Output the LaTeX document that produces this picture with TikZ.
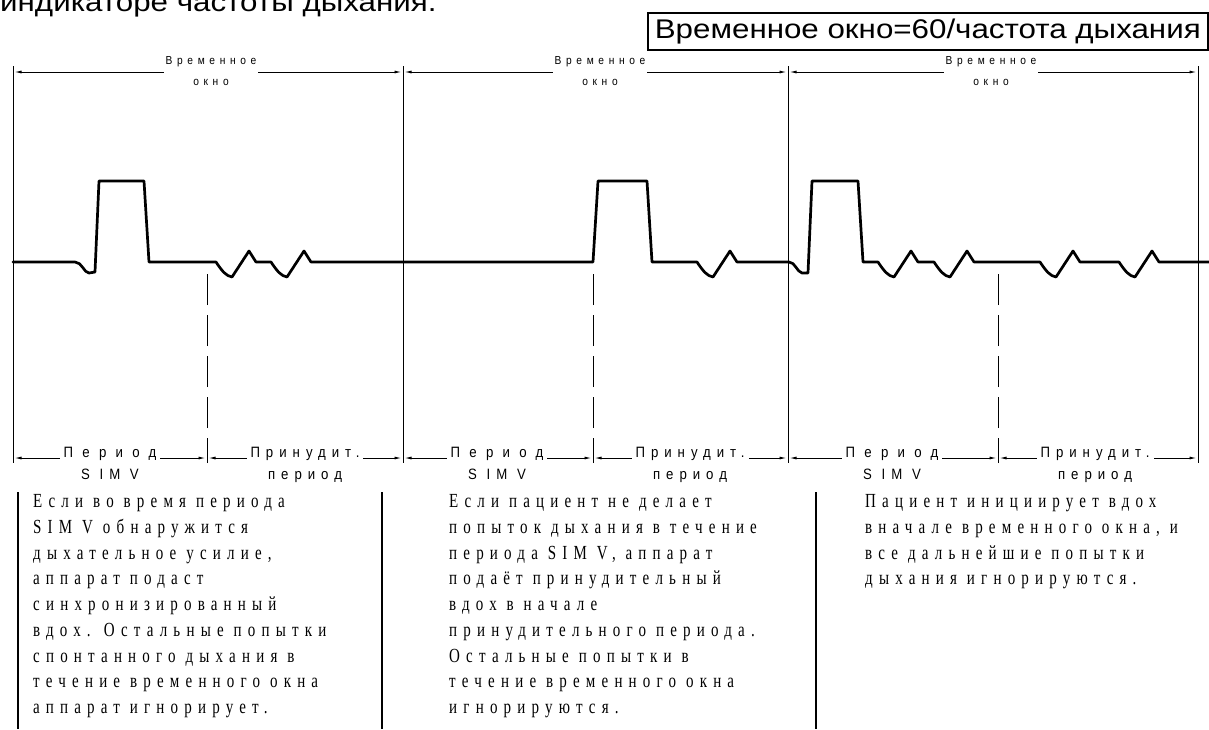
\documentclass[tikz,border=0pt]{standalone}
\usepackage{fontspec}
\setmainfont{Liberation Serif}
\newfontfamily\bigfont[FakeStretch=1.16]{Liberation Sans}
\newfontfamily\lblfont[LetterSpace=40,FakeStretch=0.88]{Liberation Sans}
\newfontfamily\perfont[LetterSpace=62,FakeStretch=0.88]{Liberation Sans}
\newfontfamily\descfont[LetterSpace=31,FakeStretch=0.75]{Liberation Serif}
\usetikzlibrary{arrows.meta}
\begin{document}
\begin{tikzpicture}[x=1pt,y=-1pt,
  wave/.style={line width=2.7pt,line join=round,line cap=round},
  bound/.style={line width=1pt},
  dim/.style={line width=0.9pt,arrows={Latex[length=7pt,width=3pt]-Latex[length=7pt,width=3pt]},shorten <=1.5pt,shorten >=1.5pt},
  dashv/.style={line width=1pt,dash pattern=on 31pt off 10pt,dash phase=6pt},
  toplbl/.style={font=\lblfont\fontsize{11.6}{21}\selectfont,align=center,fill=white,inner xsep=2pt,inner ysep=0pt,anchor=north},
  botlbl/.style={font=\lblfont\fontsize{15}{22}\selectfont,align=center,fill=white,inner xsep=4pt,inner ysep=0pt,anchor=north},
  desc/.style={font=\descfont\fontsize{20}{25.7}\selectfont,align=left,anchor=north west,inner sep=0pt},
  bar/.style={line width=1.3pt},
  thickbar/.style={line width=2pt},
  bigtext/.style={font=\bigfont\fontsize{27}{32}\selectfont,inner sep=0pt}]
\useasboundingbox (0,0) rectangle (1209,729);

% title fragment and formula box
\node[bigtext,anchor=base west] (title) at (0,11) {индикаторе частоты дыхания.};
\node[bigtext,draw,line width=1.6pt,anchor=north west,minimum width=560pt,minimum height=37pt] (formula) at (647,12) {Временное окно=60/частота дыхания};

% window boundaries
\foreach \n/\x in {0/13,1/403,2/788,3/1198}{
  \coordinate (w\n top) at (\x,66);
  \coordinate (w\n bot) at (\x,463);
  \coordinate (t\n) at (\x,72);
  \coordinate (s\n) at (\x,458);
}
\foreach \n/\x in {1/207,2/593,3/998}{
  \coordinate (d\n top) at (\x,264);
  \coordinate (d\n bot) at (\x,463);
  \coordinate (m\n) at (\x,458);
}
\foreach \n in {0,1,2,3}{\draw[bound] (w\n top) -- (w\n bot);}
\foreach \n in {1,2,3}{\draw[dashv] (d\n bot) -- (d\n top);}

% top dimension lines
\draw[dim] (t0) -- (t1);
\draw[dim] (t1) -- (t2);
\draw[dim] (t2) -- (t3);
\node[toplbl] (tl1) at (211,56.7) {Временное\\окно};
\node[toplbl] (tl2) at (600,56.7) {Временное\\окно};
\node[toplbl] (tl3) at (991,56.7) {Временное\\окно};

% bottom dimension lines
\draw[dim] (s0) -- (m1);
\draw[dim] (m1) -- (s1);
\draw[dim] (s1) -- (m2);
\draw[dim] (m2) -- (s2);
\draw[dim] (s2) -- (m3);
\draw[dim] (m3) -- (s3);
\node[botlbl] (p1) at (110,446.5) {{\perfont Период}\\S IM V};
\node[botlbl] (f1) at (305,446.5) {Принудит.\\период};
\node[botlbl] (p2) at (497,446.5) {{\perfont Период}\\S IM V};
\node[botlbl] (f2) at (690,446.5) {Принудит.\\период};
\node[botlbl] (p3) at (892,446.5) {{\perfont Период}\\S IM V};
\node[botlbl] (f3) at (1095,446.5) {Принудит.\\период};

% waveform
\draw[wave] (13,262) -- (75,262) .. controls (82,262) and (84,273) .. (89,273) -- (95,272) -- (99,181) -- (144,181) -- (149,262)
 -- (216,262) .. controls (222,271) and (226,276) .. (232,277) -- (249,251) -- (256,262)
 -- (271,262) .. controls (277,271) and (281,276) .. (287,277) -- (304,251) -- (311,262)
 -- (593,262) -- (598,181) -- (647,181) -- (652,262)
 -- (697,262) .. controls (703,271) and (707,276) .. (713,277) -- (730,251) -- (737,262)
 -- (789,262) .. controls (795,262) and (797,272) .. (802,273) -- (808,273) -- (812,181) -- (858,181) -- (863,262)
 -- (878,262) .. controls (884,271) and (888,276) .. (894,277) -- (911,251) -- (918,262)
 -- (934,262) .. controls (940,271) and (944,276) .. (950,277) -- (967,251) -- (974,262)
 -- (1040,262) .. controls (1046,271) and (1050,276) .. (1056,277) -- (1073,251) -- (1080,262)
 -- (1119,262) .. controls (1125,271) and (1129,276) .. (1135,277) -- (1152,251) -- (1159,262)
 -- (1209,262);

% description bars
\draw[bar] (18,492) -- (18,729);
\draw[thickbar] (382,492) -- (382,729);
\draw[thickbar] (816,492) -- (816,729);

% descriptions
\node[desc] (txt1) at (33,494.5) {Если во время периода\\SIM V обнаружится\\дыхательное усилие,\\аппарат подаст\\синхронизированный\\вдох. Остальные попытки\\спонтанного дыхания в\\течение временного окна\\аппарат игнорирует.};
\node[desc] (txt2) at (449,494.5) {Если пациент не делает\\попыток дыхания в течение\\периода SIM V, аппарат\\подаёт принудительный\\вдох в начале\\принудительного периода.\\Остальные попытки в\\течение временного окна\\игнорируются.};
\node[desc] (txt3) at (865,494.5) {Пациент инициирует вдох\\вначале временного окна, и\\все дальнейшие попытки\\дыхания игнорируются.};
\end{tikzpicture}
\end{document}
